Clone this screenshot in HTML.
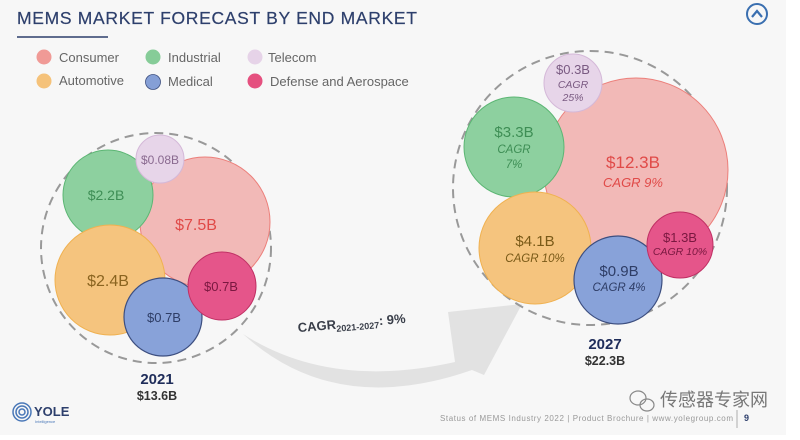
<!DOCTYPE html>
<html><head><meta charset="utf-8"><style>
body{margin:0;width:800px;height:435px;overflow:hidden;background:#fff;font-family:"Liberation Sans","Noto Sans CJK SC",sans-serif}
</style></head><body>
<svg width="800" height="435" viewBox="0 0 800 435" xmlns="http://www.w3.org/2000/svg" font-family="Liberation Sans, Noto Sans CJK SC, sans-serif">
<rect x="0" y="0" width="786" height="435" fill="#f7f7f7"/>
<text x="17" y="24" font-size="17.5" fill="#2d3f6c" textLength="400" stroke="#2d3f6c" stroke-width="0.2">MEMS MARKET FORECAST BY END MARKET</text>
<line x1="17" y1="37" x2="108" y2="37" stroke="#2d3f6c" stroke-width="1.5"/>
<circle cx="757" cy="14" r="10" fill="none" stroke="#3a6fb0" stroke-width="2"/>
<polyline points="752,17 757,11 762,17" fill="none" stroke="#3a6fb0" stroke-width="2.2"/>
<g font-size="13" fill="#666">
<circle cx="44" cy="57" r="7.5" fill="#f09a96"/><text x="59" y="62">Consumer</text>
<circle cx="153" cy="57" r="7.5" fill="#86cc98"/><text x="168" y="62">Industrial</text>
<circle cx="255" cy="57" r="7.5" fill="#e6d3e8"/><text x="268" y="62">Telecom</text>
<circle cx="44" cy="81" r="7.5" fill="#f5c27a"/><text x="59" y="85">Automotive</text>
<circle cx="153" cy="82" r="7.5" fill="#859fd6" stroke="#3d4f80" stroke-width="0.8"/><text x="168" y="86">Medical</text>
<circle cx="255" cy="81" r="7.5" fill="#e5507f"/><text x="270" y="86">Defense and Aerospace</text>
</g>
<!-- arrow -->
<path d="M243,334 Q330,390 455,362 L448,312 L522,304 L484,375 L472,370 Q335,418 243,334 Z" fill="#e2e2e2"/>
<g transform="rotate(-5 300 330)" fill="#3a3f4a" font-weight="bold">
<text x="298" y="332" font-size="13">CAGR<tspan font-size="9" dy="3">2021-2027</tspan><tspan dy="-3">: 9%</tspan></text>
</g>
<!-- 2021 -->
<circle cx="156" cy="248" r="115" fill="none" stroke="#999" stroke-width="2" stroke-dasharray="9 6"/>
<circle cx="205" cy="222" r="65" fill="#f2b9b7" stroke="#ec7f7a" stroke-width="1"/>
<circle cx="108" cy="195" r="45" fill="#8dd09f" stroke="#5cb674" stroke-width="1"/>
<circle cx="160" cy="159" r="24" fill="#e7d5e9" stroke="#d4b8d8" stroke-width="1"/>
<circle cx="110" cy="280" r="55" fill="#f5c47e" stroke="#f0b150" stroke-width="1"/>
<circle cx="163" cy="317" r="39" fill="#88a2d9" stroke="#3d4f80" stroke-width="1.2"/>
<circle cx="222" cy="286" r="34" fill="#e5558a" stroke="#c03064" stroke-width="1"/>
<g font-size="14" text-anchor="middle">
<text x="196" y="230" fill="#e04a48" font-size="16">$7.5B</text>
<text x="106" y="200" fill="#3e8e55">$2.2B</text>
<text x="160" y="164" fill="#8a6a90" font-size="12">$0.08B</text>
<text x="108" y="286" fill="#8a6420" font-size="16">$2.4B</text>
<text x="164" y="322" fill="#2e3d66" font-size="13">$0.7B</text>
<text x="221" y="291" fill="#7a1840" font-size="13">$0.7B</text>
</g>
<text x="157" y="384" font-size="15" font-weight="bold" fill="#1f2d5a" text-anchor="middle">2021</text>
<text x="157" y="400" font-size="12.5" font-weight="bold" fill="#333" text-anchor="middle">$13.6B</text>
<!-- 2027 -->
<circle cx="590" cy="188" r="137" fill="none" stroke="#999" stroke-width="2" stroke-dasharray="9 6"/>
<circle cx="636" cy="170" r="92" fill="#f2b9b7" stroke="#ec7f7a" stroke-width="1"/>
<circle cx="514" cy="147" r="50" fill="#8dd09f" stroke="#5cb674" stroke-width="1"/>
<circle cx="573" cy="83" r="29" fill="#e7d5e9" stroke="#d4b8d8" stroke-width="1"/>
<circle cx="535" cy="248" r="56" fill="#f5c47e" stroke="#f0b150" stroke-width="1"/>
<circle cx="618" cy="280" r="44" fill="#88a2d9" stroke="#3d4f80" stroke-width="1.2"/>
<circle cx="680" cy="245" r="33" fill="#e5558a" stroke="#c03064" stroke-width="1"/>
<g text-anchor="middle">
<text x="633" y="168" fill="#e04a48" font-size="17">$12.3B</text>
<text x="633" y="187" fill="#e04a48" font-size="13" font-style="italic">CAGR 9%</text>
<text x="514" y="137" fill="#3e8e55" font-size="15">$3.3B</text>
<text x="514" y="153" fill="#3e8e55" font-size="11.5" font-style="italic">CAGR</text>
<text x="514" y="168" fill="#3e8e55" font-size="11.5" font-style="italic">7%</text>
<text x="573" y="74" fill="#7a5a82" font-size="13">$0.3B</text>
<text x="573" y="88" fill="#7a5a82" font-size="10.5" font-style="italic">CAGR</text>
<text x="573" y="101" fill="#7a5a82" font-size="10.5" font-style="italic">25%</text>
<text x="535" y="246" fill="#7a5a18" font-size="15">$4.1B</text>
<text x="535" y="262" fill="#7a5a18" font-size="11.5" font-style="italic">CAGR 10%</text>
<text x="619" y="276" fill="#2e3d66" font-size="15">$0.9B</text>
<text x="619" y="291" fill="#2e3d66" font-size="11.5" font-style="italic">CAGR 4%</text>
<text x="680" y="242" fill="#7a1840" font-size="13">$1.3B</text>
<text x="680" y="255" fill="#7a1840" font-size="10.5" font-style="italic">CAGR 10%</text>
</g>
<text x="605" y="349" font-size="15" font-weight="bold" fill="#1f2d5a" text-anchor="middle">2027</text>
<text x="605" y="365" font-size="12.5" font-weight="bold" fill="#333" text-anchor="middle">$22.3B</text>
<!-- footer -->
<g fill="none" stroke="#4a78b8" stroke-width="1.5">
<circle cx="22" cy="412" r="9"/><circle cx="22" cy="412" r="6"/><circle cx="22" cy="412" r="3"/>
</g>
<text x="34" y="416" font-size="13" font-weight="bold" fill="#2d3f6c">YOLE</text>
<text x="35" y="423" font-size="4" fill="#4a78b8">Intelligence</text>
<text x="440" y="421" font-size="8" fill="#999" textLength="293">Status of MEMS Industry 2022 | Product Brochure | www.yolegroup.com</text>
<line x1="737" y1="410" x2="737" y2="428" stroke="#999" stroke-width="0.8"/>
<text x="744" y="421" font-size="9" font-weight="bold" fill="#2d3f6c">9</text>
<g fill="none" stroke="#888" stroke-width="1.2">
<ellipse cx="638" cy="398" rx="8" ry="7"/><ellipse cx="647" cy="405" rx="7" ry="6"/>
</g>
<text x="660" y="406" font-size="18" fill="#777">传感器专家网</text>
</svg>
</body></html>
